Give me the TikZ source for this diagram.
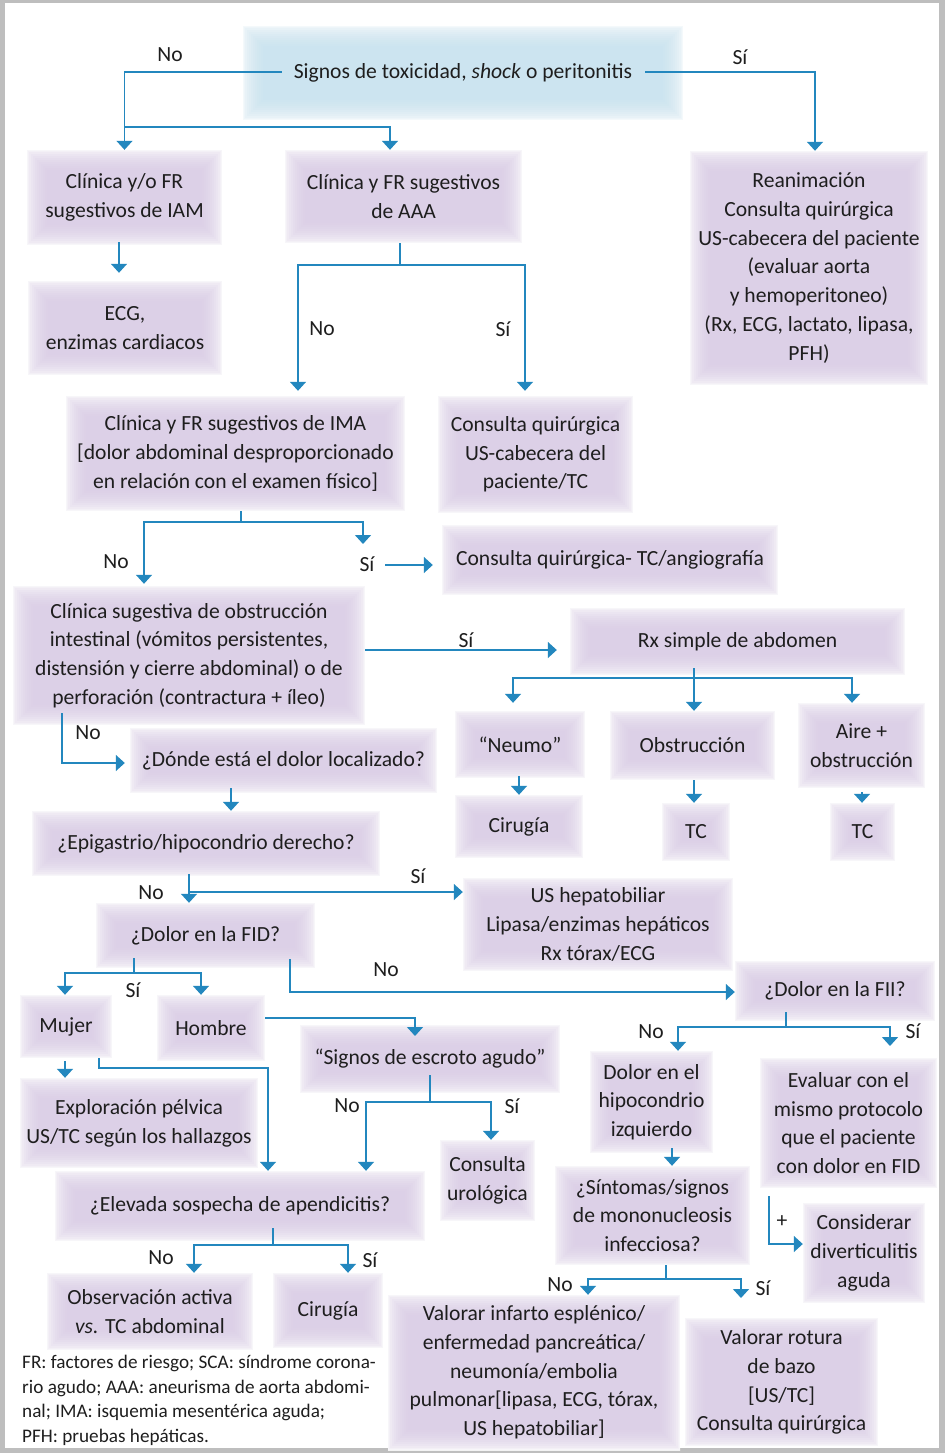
\documentclass[tikz,border=0pt]{standalone}
\usepackage{fontspec}
\setmainfont{Carlito}
\usetikzlibrary{arrows.meta}
\definecolor{lc}{RGB}{35,135,190}
\definecolor{boxp}{RGB}{220,208,231}
\definecolor{boxb}{RGB}{204,228,240}
\definecolor{txt}{RGB}{30,30,30}
\definecolor{frm}{RGB}{190,190,190}
\newcommand\nfont{\fontsize{21.6}{28.7}\selectfont}
\newcommand\ffont{\fontsize{19.2}{24.5}\selectfont}
\begin{document}
\begin{tikzpicture}[x=1pt,y=-1pt,
 glow/.style={path picture={
   \foreach \w/\o in {40/0.04,36/0.05,32/0.06,28/0.07,24/0.08,20/0.1,16/0.12,12/0.15,8/0.2,4/0.3,2/0.4}{\draw[white,opacity=\o,line width=\w pt] (path picture bounding box.south west) rectangle (path picture bounding box.north east);}}},
 bx/.style={rectangle, fill=boxp, glow, text=txt, align=center, inner sep=0pt, font=\nfont, yshift=-3pt},
 bb/.style={bx, fill=boxb},
 wh/.style 2 args={minimum width=#1pt, minimum height=#2pt},
 ln/.style={draw=lc, line width=1.5pt},
 arr/.style={ln, -{Triangle[width=16pt,length=9pt]}},
 lbl/.style={text=txt, font=\nfont, inner sep=0pt},
]
\useasboundingbox (0,0) rectangle (945,1453);
\fill[frm] (0,0) rectangle (945,1453);
\fill[white] (5,3) rectangle (939,1448);

% nodes
\node[bb,wh={440}{94}] (top) at (463,70) {Signos de toxicidad, \textit{shock} o peritonitis};
\node[bx,wh={195}{95}] (iam) at (124.5,194.5) {Clínica y/o FR\\sugestivos de IAM};
\node[bx,wh={237}{93}] (aaa) at (403.5,193.5) {Clínica y FR sugestivos\\de AAA};
\node[bx,wh={238}{234}] (rean) at (809,265) {Reanimación\\Consulta quirúrgica\\US-cabecera del paciente\\(evaluar aorta\\y hemoperitoneo)\\(Rx, ECG, lactato, lipasa,\\PFH)};
\node[bx,wh={194}{94}] (ecg) at (125,325) {ECG,\\enzimas cardiacos};
\node[bx,wh={339}{115}] (ima) at (235.5,450.5) {Clínica y FR sugestivos de IMA\\{[}dolor abdominal desproporcionado\\en relación con el examen físico]};
\node[bx,wh={195}{117}] (cq1) at (535.5,451.5) {Consulta quirúrgica\\US-cabecera del\\paciente/TC};
\node[bx,wh={336}{70}] (cq2) at (610,557) {Consulta quirúrgica- TC/angiografía};
\node[bx,wh={352}{139}] (obs) at (189,652.5) {Clínica sugestiva de obstrucción\\intestinal (vómitos persistentes,\\distensión y cierre abdominal) o de\\perforación (contractura + íleo)};
\node[bx,wh={335}{67}] (rx) at (737.5,638.5) {Rx simple de abdomen};
\node[bx,wh={130}{67}] (neumo) at (520,741.5) {“Neumo”};
\node[bx,wh={165}{69}] (obstr) at (692.5,742.5) {Obstrucción};
\node[bx,wh={127}{85}] (aire) at (861.5,742.5) {Aire +\\obstrucción};
\node[bx,wh={128}{63}] (cir1) at (519,823.5) {Cirugía};
\node[bx,wh={68}{58}] (tc1) at (696,829) {TC};
\node[bx,wh={65}{58}] (tc2) at (862.5,829) {TC};
\node[bx,wh={307}{65}] (donde) at (283.5,757.5) {¿Dónde está el dolor localizado?};
\node[bx,wh={348}{65}] (epi) at (206,840.5) {¿Epigastrio/hipocondrio derecho?};
\node[bx,wh={270}{93}] (ushep) at (598,921.5) {US hepatobiliar\\Lipasa/enzimas hepáticos\\Rx tórax/ECG};
\node[bx,wh={219}{65}] (fid) at (205.5,932.5) {¿Dolor en la FID?};
\node[bx,wh={92}{63}] (mujer) at (66,1023.5) {Mujer};
\node[bx,wh={108}{66}] (hombre) at (211,1025) {Hombre};
\node[bx,wh={238}{90}] (explo) at (139,1120) {Exploración pélvica\\US/TC según los hallazgos};
\node[bx,wh={370}{70}] (apend) at (240,1203) {¿Elevada sospecha de apendicitis?};
\node[bx,wh={260}{68}] (escroto) at (430,1056) {“Signos de escroto agudo”};
\node[bx,wh={95}{81}] (urol) at (487.5,1177.5) {Consulta\\urológica};
\node[bx,wh={206}{77}] (obsact) at (150,1308.5) {Observación activa\\\textit{vs.} TC abdominal};
\node[bx,wh={110}{75}] (cir2) at (328,1307.5) {Cirugía};
\node[bx,wh={200}{60}] (fii) at (835,988) {¿Dolor en la FII?};
\node[bx,wh={123}{102}] (hipo) at (651.5,1099) {Dolor en el\\hipocondrio\\izquierdo};
\node[bx,wh={177}{130}] (eval) at (848.5,1120) {Evaluar con el\\mismo protocolo\\que el paciente\\con dolor en FID};
\node[bx,wh={195}{99}] (mono) at (652.5,1212.5) {¿Síntomas/signos\\de mononucleosis\\infecciosa?};
\node[bx,wh={122}{100}] (diver) at (864,1250) {Considerar\\diverticulitis\\aguda};
\node[bx,wh={292}{155}] (infarto) at (534,1369.5) {Valorar infarto esplénico/\\enfermedad pancreática/\\neumonía/embolia\\pulmonar[lipasa, ECG, tórax,\\US hepatobiliar]};
\node[bx,wh={193}{128}] (bazo) at (781.5,1379) {Valorar rotura\\de bazo\\{[}US/TC]\\Consulta quirúrgica};

\node[anchor=north west, align=left, font=\ffont, text=txt, inner sep=0pt] (fn) at (22,1355) {FR: factores de riesgo; SCA: síndrome corona-\\rio agudo; AAA: aneurisma de aorta abdomi-\\nal; IMA: isquemia mesentérica aguda;\\PFH: pruebas hepáticas.};

% coordinates
\coordinate (j1) at (124.5,127);
\coordinate (j2) at (400,265);
\coordinate (j3) at (241,522);
\coordinate (c1) at (363,544);
\coordinate (c2) at (385,565);
\coordinate (j4) at (694,678);
\coordinate (j5a) at (189,892);
\coordinate (j5) at (134,973);
\coordinate (k1) at (268,1068);
\coordinate (k2) at (415,1018);
\coordinate (k3) at (415,1036);
\coordinate (j6) at (430,1102);
\coordinate (j7) at (273,1245);
\coordinate (j8) at (786,1027);
\coordinate (k4) at (890,1046);
\coordinate (j9) at (666,1279);
\coordinate (k5) at (741,1298);

% connectors
\draw[arr] (top.west |- 0,72) ++(39,0) -| (iam.north);
\draw[arr] (j1) -| ([xshift=-13.5pt]aaa.north);
\draw[arr] (top.east |- 0,72) ++(-38,0) -| ([xshift=6pt]rean.north);
\draw[arr, shorten >=8pt] (iam.south -| 119,0) ++(0,-3) -- (ecg.north -| 119,0);
\draw[ln] (aaa.south -| j2) -- (j2);
\draw[arr] (j2) -| ([xshift=62.5pt,yshift=5pt]ima.north);
\draw[arr] (j2) -| ([xshift=-10.5pt,yshift=5pt]cq1.north);
\draw[ln] (ima.south -| j3) -- (j3);
\draw[arr] (j3) -| ([xshift=-45pt,yshift=2pt]obs.north);
\draw[arr] (j3) -| (c1);
\draw[arr, shorten >=9pt] (c2) -- (c2 -| cq2.west);
\draw[arr, shorten >=13pt] (obs.east |- 0,650) -- (rx.west |- 0,650);
\draw[ln] (rx.south -| j4) ++(0,-7) -- (j4);
\draw[arr] (j4) -| ([xshift=-7pt,yshift=8pt]neumo.north);
\draw[arr] (j4) -- (j4 |- obstr.north);
\draw[arr] (j4) -| ([xshift=-9.5pt]aire.north);
\draw[arr] (neumo.south -| 519,0) ++(0,-2) -- (cir1.north -| 519,0);
\draw[arr] (obstr.south -| 694,0) -- (tc1.north -| 694,0);
\draw[arr] (aire.south -| 862,0) ++(0,4) -- (tc2.north -| 862,0);
\draw[arr, shorten >=5pt] (obs.south -| 62,0) ++(0,-12) |- (donde.west |- 0,763);
\draw[arr] (donde.south -| 231,0) ++(0,-5) -- (epi.north -| 231,0);
\draw[arr] (epi.south -| 189,0) ++(0,-2) -- (fid.north -| 189,0);
\draw[arr] (j5a) -- (j5a -| ushep.west);
\draw[ln] (fid.south -| j5) ++(0,-10) -- (j5);
\draw[arr] (j5) -| (mujer.north -| 65,0);
\draw[arr] (j5) -| (hombre.north -| 201,0);
\draw[arr] (fid.south -| 290,0) ++(0,-9) |- (fii.west |- 0,992);
\draw[arr] (mujer.south -| 65,0) ++(0,3) -- (explo.north -| 65,0);
\draw[arr] (mujer.south -| 99,0) |- (k1) -- (k1 |- apend.north);
\draw[arr] (hombre.east |- k2) -| (k3);
\draw[ln] (escroto.south -| j6) ++(0,-18) -- (j6);
\draw[arr] (j6) -| (apend.north -| 366,0);
\draw[arr] (j6) -| (urol.north -| 491,0);
\draw[ln] (apend.south -| j7) ++(0,-13) -- (j7);
\draw[arr] (j7) -| (obsact.north -| 194,0);
\draw[arr] (j7) -| (cir2.north -| 348,0);
\draw[ln] (fii.south -| j8) ++(0,-9) -- (j8);
\draw[arr] (j8) -| (hipo.north -| 678,0);
\draw[arr] (j8) -| (k4);
\draw[arr] (hipo.south -| 672,0) ++(0,-5) -- (mono.north -| 672,0);
\draw[arr] (eval.south -| 769,0) ++(0,8) |- (diver.west |- 0,1244);
\draw[ln] (mono.south -| j9) -- (j9);
\draw[arr] (j9) -| (infarto.north -| 588,0);
\draw[arr] (j9) -| (k5);

% labels
\node[lbl] (l1) at (170,55) {No};
\node[lbl] (l2) at (740,57) {Sí};
\node[lbl] (l3) at (322,329) {No};
\node[lbl] (l4) at (503,329) {Sí};
\node[lbl] (l5) at (116,562) {No};
\node[lbl] (l6) at (367,564) {Sí};
\node[lbl] (l7) at (466,640) {Sí};
\node[lbl] (l8) at (88,733) {No};
\node[lbl] (l9) at (151,893) {No};
\node[lbl] (l10) at (418,876) {Sí};
\node[lbl] (l11) at (133,990) {Sí};
\node[lbl] (l12) at (386,970) {No};
\node[lbl] (l13) at (347,1106) {No};
\node[lbl] (l14) at (512,1106) {Sí};
\node[lbl] (l15) at (161,1258) {No};
\node[lbl] (l16) at (370,1260) {Sí};
\node[lbl] (l17) at (651,1032) {No};
\node[lbl] (l18) at (913,1031) {Sí};
\node[lbl] (l19) at (782,1222) {+};
\node[lbl] (l20) at (560,1285) {No};
\node[lbl] (l21) at (763,1288) {Sí};
\end{tikzpicture}
\end{document}
